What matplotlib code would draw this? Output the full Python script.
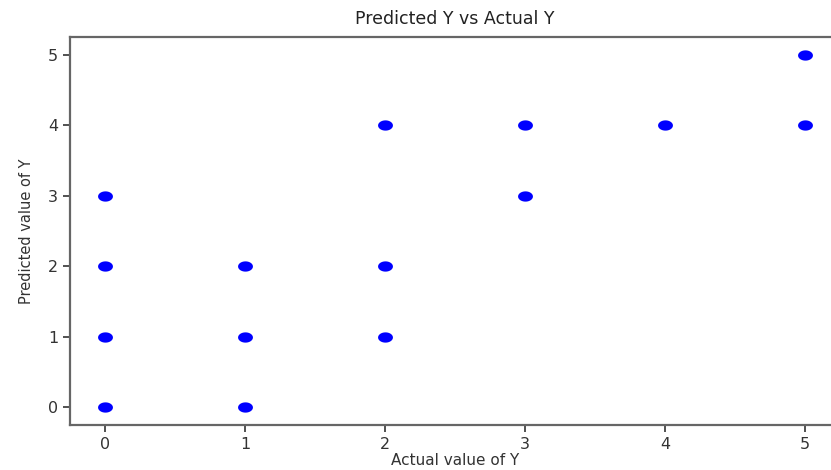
import numpy as np
import matplotlib
matplotlib.use("Agg")
import matplotlib.pyplot as plt
from matplotlib.path import Path

# actual vs predicted labels
actual_y = [0, 0, 0, 0, 1, 1, 1, 2, 2, 2, 3, 3, 4, 5, 5]
predicted_y = [0, 1, 2, 3, 0, 1, 2, 1, 2, 4, 3, 4, 4, 4, 5]
ticks = [0, 1, 2, 3, 4, 5]

# the reference image is stretched sideways, so dots are ellipses
t = np.linspace(0, 2 * np.pi, 40)
ellipse = Path(np.column_stack([np.cos(t), np.sin(t) / 1.45]))

fig = plt.figure(figsize=(8.31, 4.70), dpi=100)
# right edge of the axes falls outside the picture, as in the reference crop
ax = fig.add_axes([70 / 831, 45 / 470, 770 / 831, 388 / 470])

ax.scatter(actual_y, predicted_y, marker=ellipse, s=115, color="blue", linewidths=0)

ax.set_xlim(-0.25, 5.25)
ax.set_ylim(-0.256, 5.256)
ax.set_xticks(ticks)
ax.set_yticks(ticks)
ax.tick_params(labelsize=11.5, colors="#333333", length=5, width=1.2)
for sp in ax.spines.values():
    sp.set_color("#666666")
    sp.set_linewidth(1.6)
ax.spines["right"].set_visible(False)

ax.set_title("Predicted Y vs Actual Y", fontsize=12.5, color="#222222", pad=9)
ax.set_xlabel("Actual value of Y", fontsize=11, color="#333333", labelpad=1)
ax.set_ylabel("Predicted value of Y", fontsize=10.5, color="#333333",
              family=["Liberation Sans Narrow", "DejaVu Sans"], labelpad=10)

plt.savefig("out.png", dpi=100)
